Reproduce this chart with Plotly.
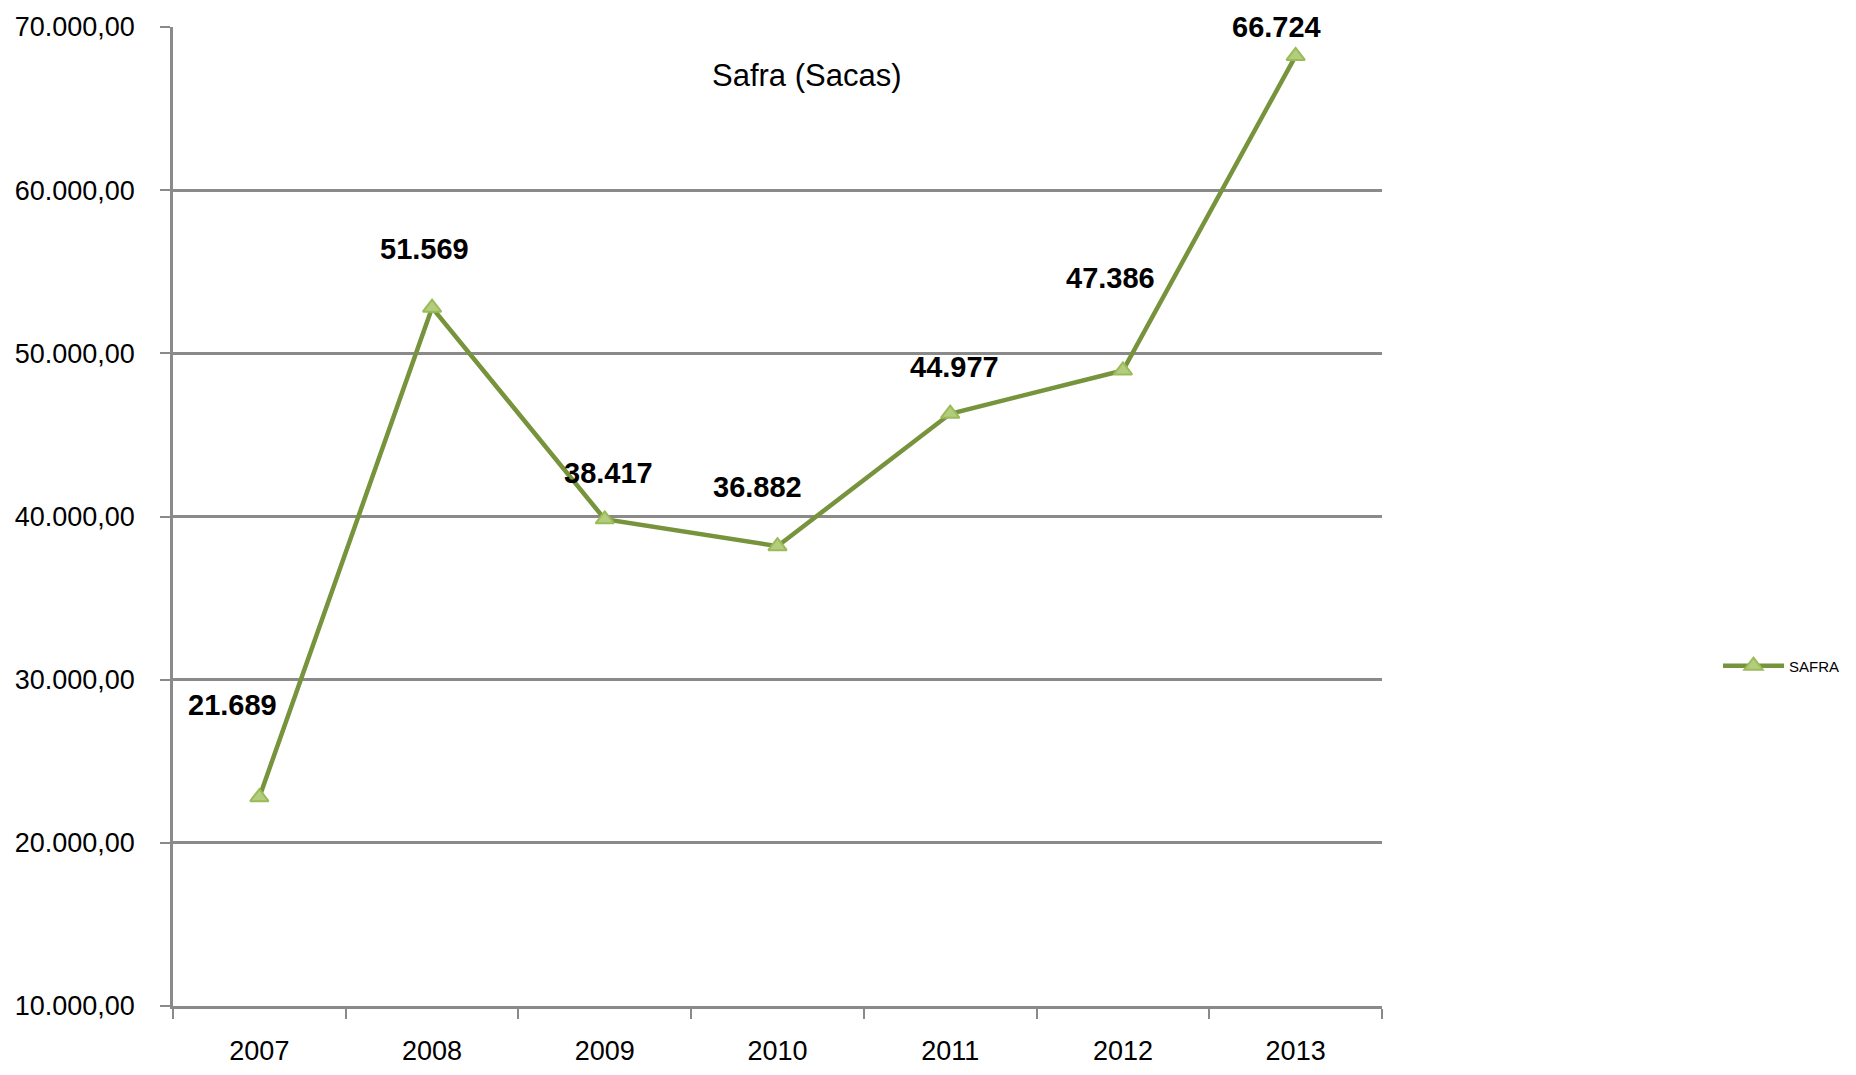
import plotly.graph_objects as go

years = ["2007", "2008", "2009", "2010", "2011", "2012", "2013"]
safra_plotted = [22800, 52800, 39830, 38180, 46300, 48950, 68230]
safra_labels = ["21.689", "51.569", "38.417", "36.882", "44.977", "47.386", "66.724"]
y_ticks = [10000, 20000, 30000, 40000, 50000, 60000, 70000]
y_tick_text = ["10.000,00", "20.000,00", "30.000,00", "40.000,00", "50.000,00", "60.000,00", "70.000,00"]

# label offsets (px) relative to each point, as in the original layout
label_dx = [-27, -8, 4, -20, 4, -12, -19]
label_dy = [92, 59, 46, 59, 47, 92, 29]

FONT = "Liberation Sans Narrow, Arial Narrow, Liberation Sans, sans-serif"
GRID = "#8a8a8a"

# page has an 8px body margin; figure coordinates = page coordinates - 8
OFF = 8
W, H = 1856 - 2 * OFF, 1075 - 2 * OFF
L = 173 - OFF
T = 27 - OFF
R = W - (1382 - OFF)
B = H - (1006 - OFF)
pw, ph = W - L - R, H - T - B

fig = go.Figure()
fig.add_trace(go.Scatter(
    x=years, y=safra_plotted, mode="lines+markers", name="SAFRA",
    line=dict(color="#77933C", width=4.5),
    marker=dict(symbol="triangle-up", size=16, color="#B3CD7E",
                line=dict(color="#9BBB59", width=2)),
))

annotations = []
for i, (v, t, dx, dy) in enumerate(zip(safra_plotted, safra_labels, label_dx, label_dy)):
    annotations.append(dict(x=i, y=v, xref="x", yref="y", text="<b>" + t + "</b>",
                            showarrow=False, xshift=dx, yshift=dy,
                            font=dict(family=FONT, size=29, color="black"),
                            xanchor="center", yanchor="middle"))
annotations.append(dict(x=(807 - OFF - L) / pw, y=(H - B - (75 - OFF)) / ph,
                        xref="paper", yref="paper",
                        text="Safra (Sacas)", showarrow=False,
                        xanchor="center", yanchor="middle",
                        font=dict(family=FONT, size=31, color="black")))

fig.update_layout(
    width=W, height=H,
    margin=dict(l=L, r=R, t=T, b=B),
    paper_bgcolor="white", plot_bgcolor="white",
    font=dict(family=FONT, color="black"),
    showlegend=True,
    legend=dict(xref="container", x=(1718 - OFF) / W,
                yref="container", y=(H - (666 - OFF)) / H,
                xanchor="left", yanchor="middle", itemwidth=61,
                font=dict(family=FONT, size=15, color="black"), bgcolor="rgba(0,0,0,0)"),
    annotations=annotations,
    xaxis=dict(type="category", range=[-0.5, 6.5], showgrid=False, automargin=False,
               showline=True, linecolor=GRID, linewidth=2.5,
               ticks="outside", tickson="boundaries", ticklen=10, tickcolor=GRID, tickwidth=2,
               tickfont=dict(family=FONT, size=27, color="black"), ticklabelstandoff=19),
    yaxis=dict(range=[10000, 70000], tickvals=y_ticks, ticktext=y_tick_text, automargin=False,
               showgrid=True, gridcolor=GRID, gridwidth=2.5, zeroline=False,
               showline=True, linecolor=GRID, linewidth=2.5,
               ticks="outside", ticklen=10, tickcolor=GRID, tickwidth=2,
               tickfont=dict(family=FONT, size=27, color="black"), ticklabelstandoff=20),
)

fig.write_html("out.html")
